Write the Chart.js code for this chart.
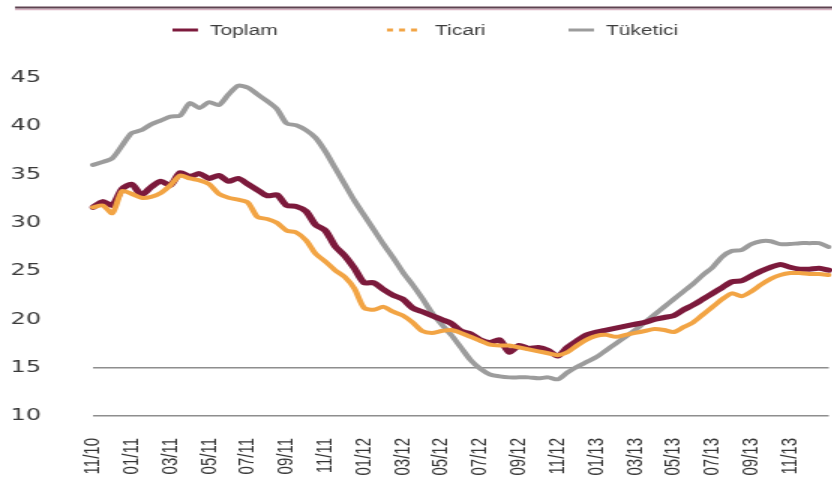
<!DOCTYPE html>
<html>
<head>
<meta charset="utf-8">
<script src="https://cdn.jsdelivr.net/npm/chart.js@4/dist/chart.umd.min.js"></script>
<style>
  html, body { margin: 0; padding: 0; background: #ffffff; overflow: hidden; }
  #wrap { position: absolute; left: 0; top: 0; width: 555px; height: 486px; transform: scaleX(1.5); transform-origin: 0 0; }
</style>
</head>
<body>
<div id="wrap"><canvas id="c"></canvas></div>
<script>
// Half-monthly observations, 11/2010 .. 01/2014
const categories = [
  '2010-11-01','2010-11-16','2010-12-01','2010-12-16',
  '2011-01-01','2011-01-16','2011-02-01','2011-02-16','2011-03-01','2011-03-16','2011-04-01','2011-04-16',
  '2011-05-01','2011-05-16','2011-06-01','2011-06-16','2011-07-01','2011-07-16','2011-08-01','2011-08-16',
  '2011-09-01','2011-09-16','2011-10-01','2011-10-16','2011-11-01','2011-11-16','2011-12-01','2011-12-16',
  '2012-01-01','2012-01-16','2012-02-01','2012-02-16','2012-03-01','2012-03-16','2012-04-01','2012-04-16',
  '2012-05-01','2012-05-16','2012-06-01','2012-06-16','2012-07-01','2012-07-16','2012-08-01','2012-08-16',
  '2012-09-01','2012-09-16','2012-10-01','2012-10-16','2012-11-01','2012-11-16','2012-12-01','2012-12-16',
  '2013-01-01','2013-01-16','2013-02-01','2013-02-16','2013-03-01','2013-03-16','2013-04-01','2013-04-16',
  '2013-05-01','2013-05-16','2013-06-01','2013-06-16','2013-07-01','2013-07-16','2013-08-01','2013-08-16',
  '2013-09-01','2013-09-16','2013-10-01','2013-10-16','2013-11-01','2013-11-16','2013-12-01','2013-12-16',
  '2014-01-01'
];

const tickLabels = ['11/10','01/11','03/11','05/11','07/11','09/11','11/11','01/12','03/12','05/12',
  '07/12','09/12','11/12','01/13','03/13','05/13','07/13','09/13','11/13'];

const seriesNames = ['Toplam', 'Ticari', 'Tüketici'];

const toplam = [
  31.6,32.2,31.8,33.5,34.0,32.9,33.7,34.3,33.9,35.2,34.8,35.1,34.6,34.9,34.3,34.6,
  34.0,33.4,32.8,32.9,31.8,31.7,31.2,29.8,29.2,27.6,26.6,25.3,23.8,23.8,23.1,22.5,
  22.1,21.2,20.8,20.4,20.0,19.6,18.8,18.5,17.9,17.6,17.9,16.6,17.3,17.0,17.1,16.8,
  16.2,17.1,17.8,18.4,18.7,18.9,19.1,19.3,19.5,19.7,20.0,20.2,20.4,21.0,21.5,22.1,
  22.7,23.3,23.9,24.0,24.5,25.0,25.4,25.7,25.4,25.2,25.2,25.3,25.1
];

const ticari = [
  31.6,31.8,31.0,33.3,33.0,32.6,32.7,33.1,33.9,34.9,34.6,34.4,34.0,33.0,32.6,32.4,
  32.1,30.6,30.4,30.0,29.2,29.0,28.2,26.8,26.0,25.1,24.4,23.2,21.2,21.0,21.3,20.8,
  20.4,19.7,18.8,18.6,18.8,18.9,18.6,18.2,17.8,17.4,17.3,17.3,17.1,16.9,16.7,16.5,
  16.3,16.6,17.3,17.9,18.3,18.4,18.2,18.4,18.6,18.8,19.0,18.9,18.7,19.2,19.7,20.5,
  21.3,22.1,22.7,22.4,22.9,23.6,24.2,24.6,24.8,24.8,24.7,24.7,24.6
];

const tuketici = [
  36.0,36.3,36.7,38.0,39.3,39.6,40.2,40.6,41.0,41.1,42.4,41.9,42.5,42.2,43.3,44.2,
  44.0,43.3,42.6,41.8,40.3,40.1,39.6,38.8,37.4,35.7,34.0,32.3,30.8,29.3,27.8,26.4,
  24.9,23.6,22.2,20.7,19.5,18.4,17.1,15.8,14.9,14.3,14.1,14.0,14.0,14.0,13.9,14.0,
  13.8,14.5,15.1,15.6,16.1,16.8,17.5,18.2,18.9,19.7,20.5,21.3,22.1,22.9,23.7,24.6,
  25.4,26.5,27.1,27.2,27.8,28.1,28.1,27.8,27.8,27.9,27.9,27.9,27.5
];

const yTicks = [10, 15, 20, 25, 30, 35, 40, 45];

const colors = { toplam: '#7c1a3c', ticari: '#f2a444', tuketici: '#9c9c9c' };

// Decorations: top rule and custom legend
const decorPlugin = {
  id: 'decor',
  afterDraw(chart) {
    const ctx = chart.ctx;
    ctx.save();
    ctx.strokeStyle = '#d9b3c3';
    ctx.lineWidth = 1.5;
    ctx.beginPath(); ctx.moveTo(10, 9.5); ctx.lineTo(chart.width, 9.5); ctx.stroke();
    ctx.strokeStyle = '#5e4250';
    ctx.lineWidth = 2;
    ctx.beginPath(); ctx.moveTo(10, 7.5); ctx.lineTo(chart.width, 7.5); ctx.stroke();
    const starts = [115, 258, 379];
    const y = 30;
    ctx.font = '14px "Liberation Sans", Arial, sans-serif';
    ctx.textBaseline = 'middle';
    ctx.textAlign = 'left';
    chart.data.datasets.forEach((ds, i) => {
      const x0 = starts[i];
      ctx.strokeStyle = ds.borderColor;
      ctx.lineWidth = 3;
      if (i === 1) ctx.setLineDash([4, 4]); else ctx.setLineDash([]);
      ctx.beginPath(); ctx.moveTo(x0, y); ctx.lineTo(x0 + (i === 1 ? 24 : 17), y); ctx.stroke();
      ctx.setLineDash([]);
      ctx.fillStyle = '#3c3c3c';
      ctx.fillText(ds.label, x0 + (i === 1 ? 32 : 25), y + 1);
    });
    ctx.restore();
  }
};

new Chart(document.getElementById('c'), {
  type: 'line',
  data: {
    labels: categories,
    datasets: [
      { label: seriesNames[0], data: toplam, borderColor: colors.toplam, backgroundColor: colors.toplam, borderWidth: 5, order: 1 },
      { label: seriesNames[1], data: ticari, borderColor: colors.ticari, backgroundColor: colors.ticari, borderWidth: 4, order: 0 },
      { label: seriesNames[2], data: tuketici, borderColor: colors.tuketici, backgroundColor: colors.tuketici, borderWidth: 4, order: 2 }
    ]
  },
  options: {
    responsive: true,
    maintainAspectRatio: false,
    animation: false,
    devicePixelRatio: 1,
    layout: { padding: { top: 78, left: 7, right: 0, bottom: 0 } },
    elements: {
      point: { radius: 0, hoverRadius: 0 },
      line: { tension: 0.25, borderCapStyle: 'round', borderJoinStyle: 'round' }
    },
    plugins: {
      legend: { display: false },
      tooltip: { enabled: false }
    },
    scales: {
      x: {
        afterFit(scale) { scale.height = 70; scale.paddingLeft = 0; scale.paddingRight = 0; },
        grid: { display: false, drawTicks: false },
        border: { display: false },
        ticks: {
          autoSkip: false,
          maxRotation: 90,
          minRotation: 90,
          padding: 22,
          color: '#333333',
          font: { family: '"Liberation Sans", Arial, sans-serif', size: 15 },
          callback(value, index) { return index % 4 === 0 ? tickLabels[index / 4] : null; }
        }
      },
      y: {
        min: yTicks[0],
        max: yTicks[yTicks.length - 1],
        afterFit(scale) { scale.width = 55; },
        afterBuildTicks(scale) { scale.ticks = yTicks.map(v => ({ value: v })); },
        grid: {
          drawTicks: false,
          lineWidth: 1.5,
          color(ctx) {
            const v = ctx.tick ? ctx.tick.value : null;
            return (v === 10 || v === 15) ? '#8e8e8e' : 'rgba(0,0,0,0)';
          }
        },
        border: { display: false },
        ticks: {
          crossAlign: 'far',
          padding: 0,
          color: '#3a3a3a',
          font: { family: '"DejaVu Sans", sans-serif', size: 16 }
        }
      }
    }
  },
  plugins: [decorPlugin]
});
</script>
</body>
</html>
